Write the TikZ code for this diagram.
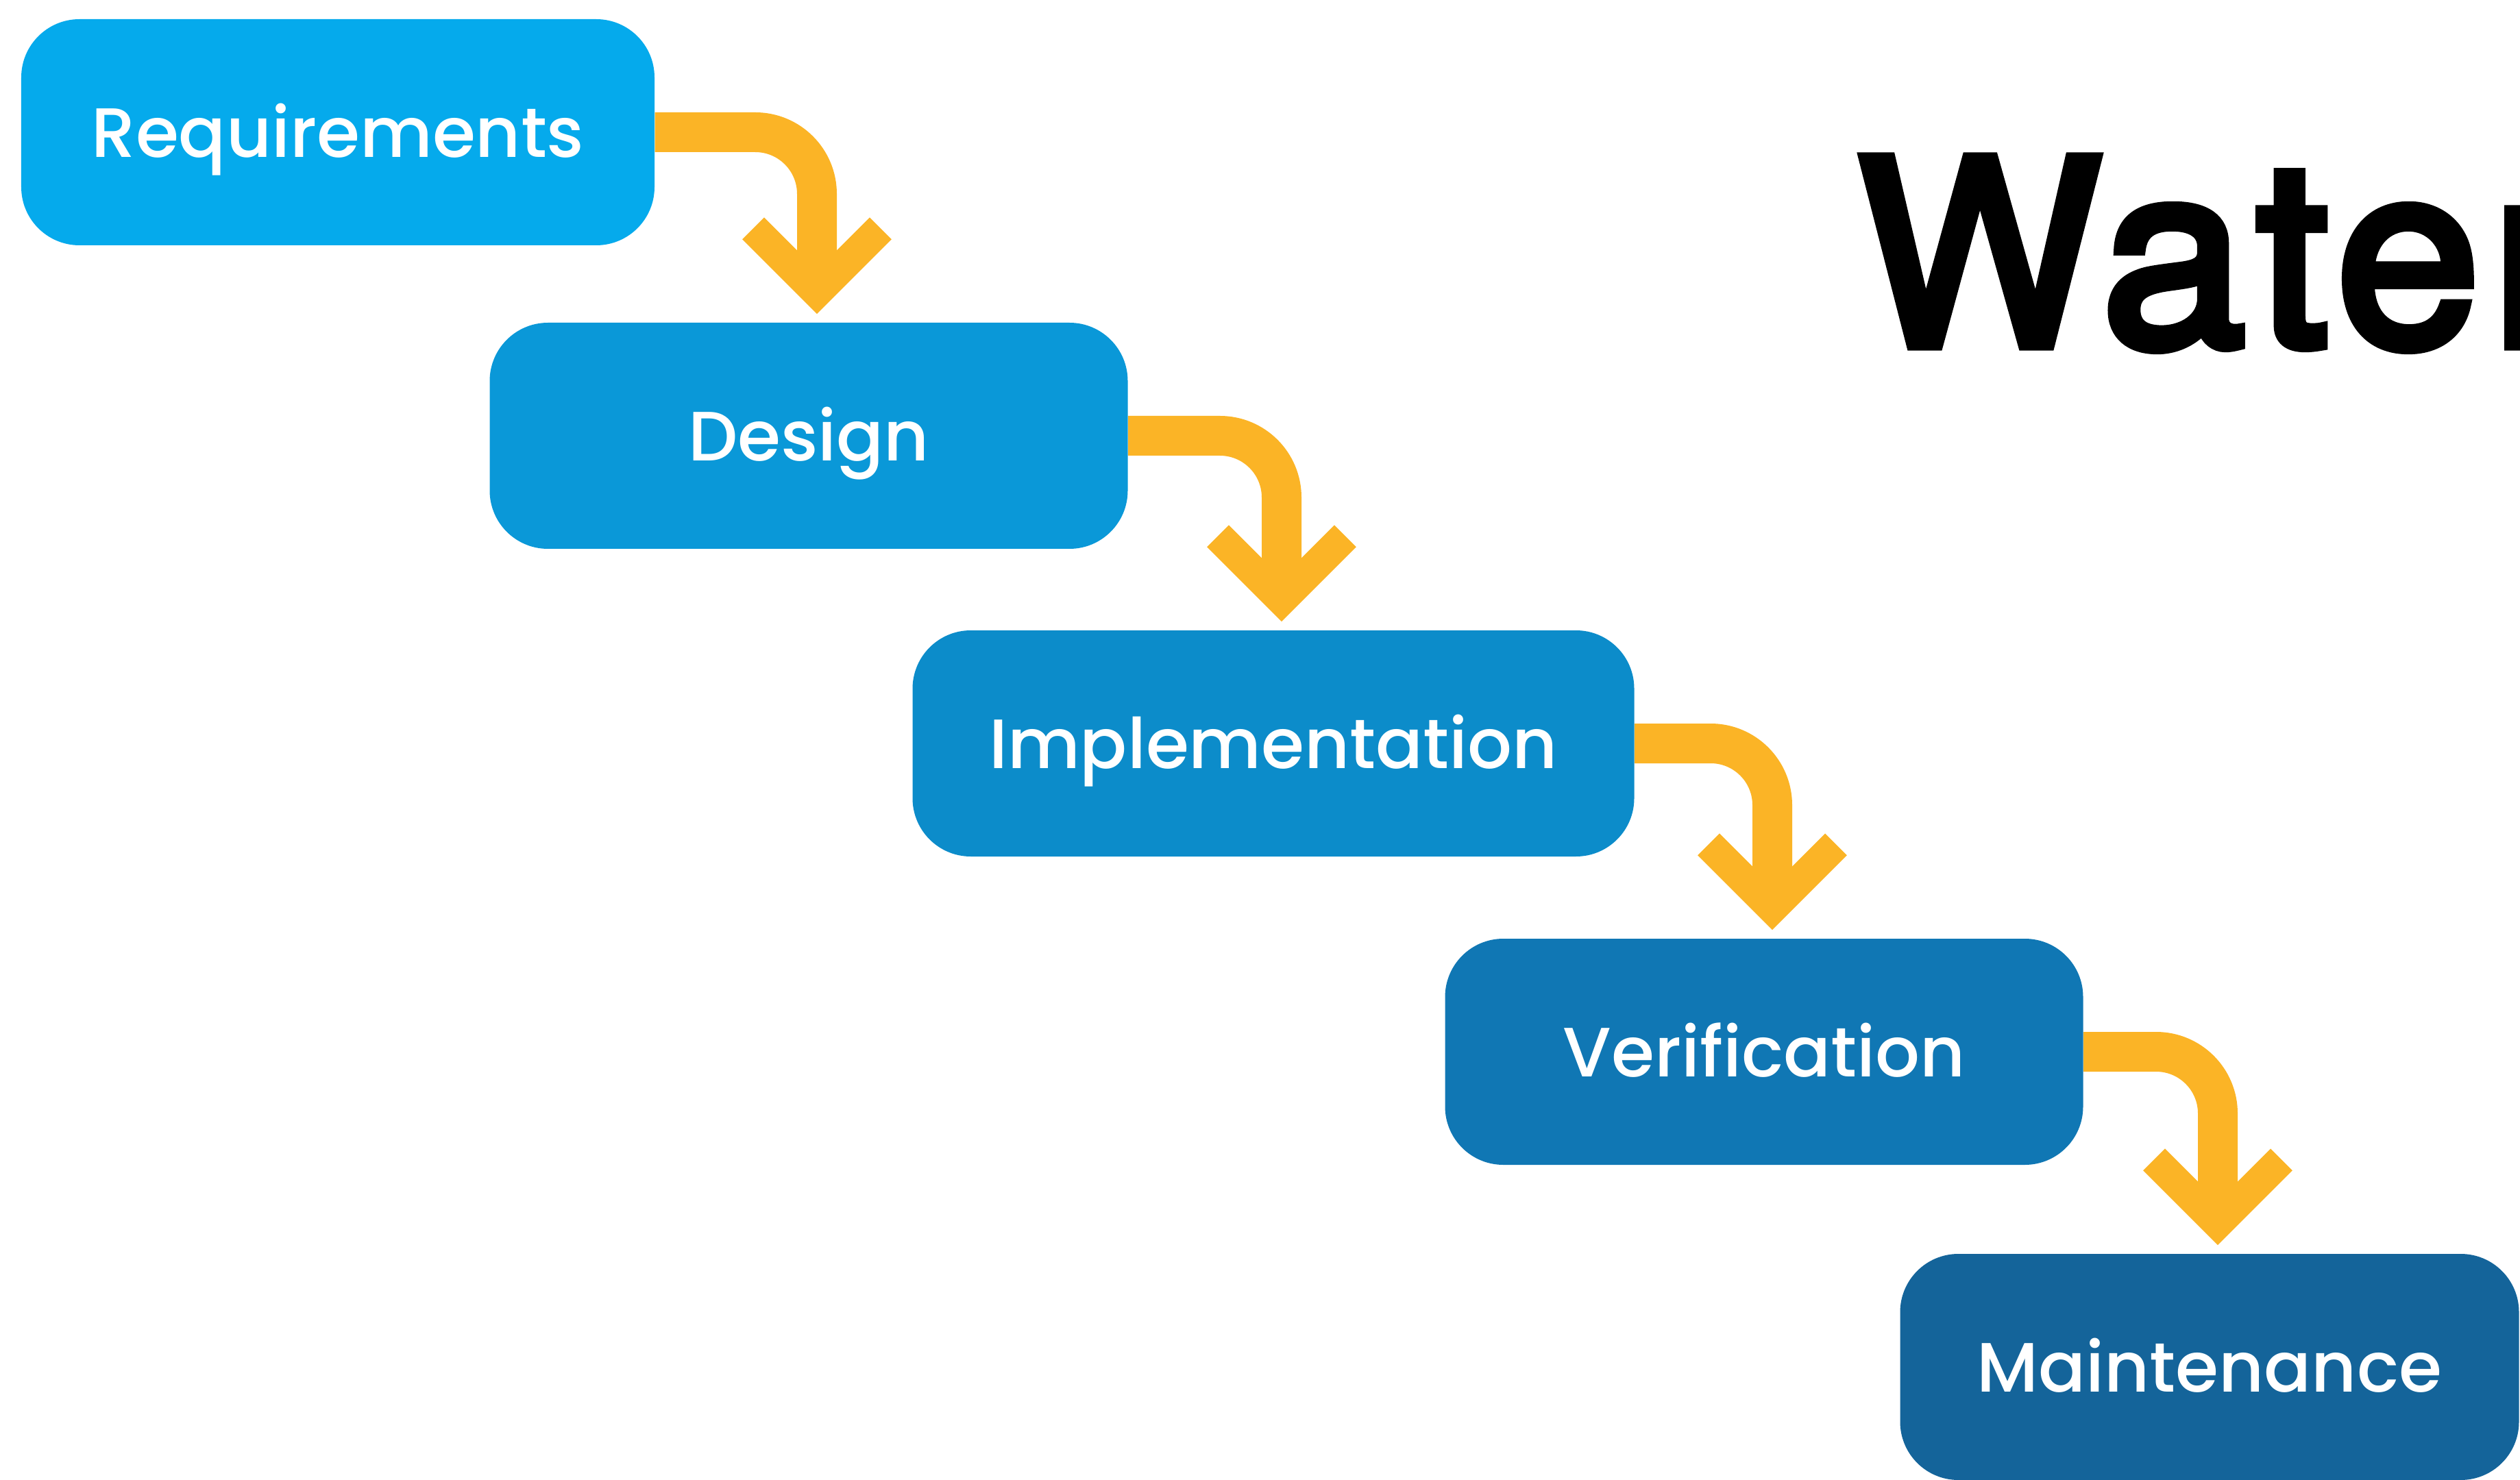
\documentclass[tikz,border=0pt]{standalone}
\usepackage{fontspec}
\setmainfont{Poppins}[UprightFont=*-Medium]
\newfontfamily\titlefont{TeX Gyre Heros}[FakeBold=4, LetterSpace=4.5]
\usepackage{tikz}
\usetikzlibrary{calc}

\definecolor{reqblue}{RGB}{5,170,236}
\definecolor{desblue}{RGB}{10,152,216}
\definecolor{impblue}{RGB}{12,140,202}
\definecolor{verblue}{RGB}{16,119,180}
\definecolor{maiblue}{RGB}{20,100,154}
\definecolor{flowyellow}{RGB}{251,180,38}

\begin{document}
\begin{tikzpicture}[
  phase/.style={rounded corners=0.85cm, minimum height=3.3cm, inner sep=0pt,
    text=white, text height=0.73cm, text depth=0pt,
    font=\fontsize{29}{30}\selectfont},
  flow/.style={line width=0.58cm, flowyellow, rounded corners=0.9cm},
  barb/.style={line width=0.45cm, flowyellow, line join=miter}
]
\useasboundingbox (0,0) rectangle (36.77,-21.6);
% Phases, stepping down to the right
\node[phase, fill=reqblue, minimum width=9.24cm] (req) at (4.93,-1.93) {Requirements};
\node[phase, fill=desblue, minimum width=9.31cm] (des) at (11.80,-6.36) {Design};
\node[phase, fill=impblue, minimum width=10.53cm] (imp) at (18.58,-10.85) {Implementation};
\node[phase, fill=verblue, minimum width=9.31cm] (ver) at (25.74,-15.35) {Verification};
\node[phase, fill=maiblue, minimum width=9.03cm] (mai) at (32.24,-19.95) {Maintenance};

% Bent arrows from one phase to the next
\foreach \a/\b in {req/des, des/imp, imp/ver, ver/mai} {
    \coordinate (c) at ($(\b.north)+(0.12,0.44)$);
    \draw[flow] (\a.east) -| (c);
    \draw[barb] ($(c)+(-0.93,0.93)$) -- (c) -- ($(c)+(0.93,0.93)$);
}

% Title, cut off by the right edge
\node[anchor=base west, inner sep=0pt, font=\titlefont\fontsize{107}{107}\selectfont] (title) at (27.1,-5.04) {Water};
\end{tikzpicture}
\end{document}
